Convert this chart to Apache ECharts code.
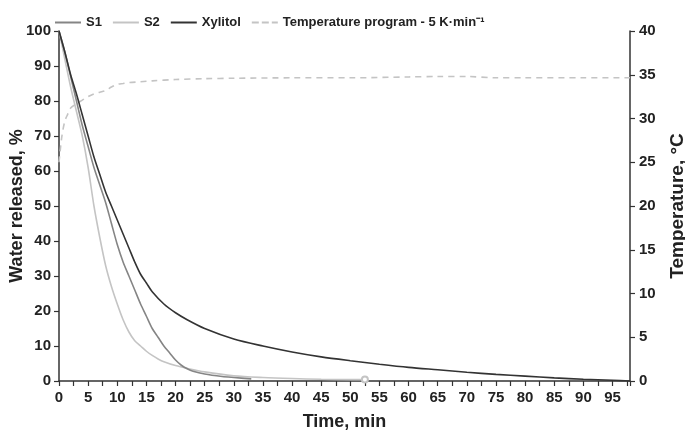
<!DOCTYPE html>
<html>
<head>
<meta charset="utf-8">
<script src="https://cdn.jsdelivr.net/npm/echarts@6/dist/echarts.min.js"></script>
<style>
  html, body { margin: 0; padding: 0; background: #fff; }
  #chart { width: 685px; height: 431px; }
</style>
</head>
<body>
<div id="chart"></div>
<script>
// 读图估计的数据 (time in min)
const s1Time = [0, 1, 2, 3, 4, 5, 6, 7, 8, 9, 10, 11, 12, 13, 14, 15, 16, 17, 18, 19, 20, 21, 22, 23, 25, 28, 30, 33]
const s1Water = [100, 94, 87, 80, 73, 67, 61, 56, 51, 45, 39, 34, 30, 26, 22, 18.5, 15, 12.5, 10, 8, 6, 4.5, 3.5, 2.8, 2, 1.3, 1, 0.6]

const s2Time = [0, 1, 2, 3, 4, 5, 6, 7, 8, 9, 10, 11, 12, 13, 14, 15, 16, 17, 18, 20, 22, 25, 30, 35, 40, 45, 50, 52.5]
const s2Water = [100, 92, 84, 77, 70, 61, 50, 41, 33, 27, 22, 17.5, 14, 11.5, 10, 8.5, 7.3, 6.3, 5.5, 4.4, 3.6, 2.6, 1.5, 1, 0.7, 0.5, 0.4, 0.4]

const xyTime = [0, 1, 2, 3, 4, 5, 6, 7, 8, 9, 10, 11, 12, 13, 14, 15, 16, 18, 20, 22, 25, 30, 35, 40, 45, 50, 55, 60, 65, 70, 75, 80, 85, 90, 95, 98]
const xyWater = [100, 94, 87.5, 82, 76, 70, 64, 59, 54, 50, 46, 42, 38, 34, 30.5, 28, 25.5, 22, 19.5, 17.5, 15, 12, 10, 8.3, 6.9, 5.8, 4.8, 3.9, 3.2, 2.5, 1.9, 1.4, 0.9, 0.5, 0.2, 0]

const tempTime = [0, 0.5, 1, 1.5, 2, 3, 4, 5, 6, 7, 8, 9, 10, 11, 12, 14, 16, 20, 25, 30, 40, 50, 60, 65, 70, 75, 80, 90, 98]
const tempValue = [25, 28, 29.7, 30.5, 31.2, 31.7, 32.1, 32.5, 32.8, 33, 33.2, 33.6, 33.9, 34, 34.1, 34.2, 34.3, 34.45, 34.55, 34.6, 34.65, 34.65, 34.75, 34.8, 34.8, 34.65, 34.65, 34.65, 34.65]

const pairs = (xs, ys) => xs.map((x, i) => [x, ys[i]])

const axisColor = '#333'
const labelFont = {
  fontFamily: 'Liberation Sans',
  fontWeight: 'bold',
  fontSize: 15,
  color: '#222'
}
// 图例线条图标
const solidIcon = 'path://M0,0H26V2H0Z'
const dashIcon = 'path://M0,0H7V2H0Z M10,0H17V2H10Z M20,0H26V2H20Z'

const chart = echarts.init(document.getElementById('chart'))
const option = {
  animation: false,
  backgroundColor: '#fff',
  legend: {
    top: 11,
    left: 50,
    itemWidth: 26,
    itemHeight: 2,
    itemGap: 11,
    textStyle: Object.assign({}, labelFont, {fontSize: 13}),
    data: [
      {name: 'S1', icon: solidIcon},
      {name: 'S2', icon: solidIcon},
      {name: 'Xylitol', icon: solidIcon},
      {name: 'Temperature program - 5 K·min⁻¹', icon: dashIcon}
    ]
  },
  grid: {
    left: 59,
    right: 55,
    top: 31,
    bottom: 50,
    containLabel: false,
    outerBoundsMode: 'none'
  },
  xAxis: {
    type: 'value',
    min: 0,
    max: 98,
    interval: 5,
    name: 'Time, min',
    nameLocation: 'middle',
    nameGap: 32,
    nameMoveOverlap: false,
    nameTextStyle: Object.assign({}, labelFont, {fontSize: 18}),
    axisLine: {lineStyle: {color: axisColor, width: 1.5}},
    axisTick: {inside: false, length: 5, lineStyle: {color: axisColor, width: 1.2}},
    minorTick: {show: true, splitNumber: 2, length: 5, lineStyle: {color: axisColor, width: 1.2}},
    axisLabel: Object.assign({}, labelFont, {
      margin: 9,
      formatter: v => (v % 5 === 0 && v <= 95 ? String(v) : '')
    }),
    splitLine: {show: false}
  },
  yAxis: [
    {
      type: 'value',
      min: 0,
      max: 100,
      interval: 10,
      name: 'Water released, %',
      nameLocation: 'middle',
      nameGap: 33,
      nameMoveOverlap: false,
      nameTextStyle: Object.assign({}, labelFont, {fontSize: 18}),
      axisLine: {show: true, lineStyle: {color: axisColor, width: 1.5}},
      axisTick: {show: true, length: 5, lineStyle: {color: axisColor, width: 1.2}},
      axisLabel: Object.assign({}, labelFont, {margin: 8}),
      splitLine: {show: false}
    },
    {
      type: 'value',
      min: 0,
      max: 40,
      interval: 5,
      position: 'right',
      name: 'Temperature, °C',
      nameLocation: 'middle',
      nameGap: 38,
      nameRotate: 90,
      nameMoveOverlap: false,
      nameTextStyle: Object.assign({}, labelFont, {fontSize: 19}),
      axisLine: {show: true, lineStyle: {color: axisColor, width: 1.5}},
      axisTick: {show: true, length: 5, lineStyle: {color: axisColor, width: 1.2}},
      axisLabel: Object.assign({}, labelFont, {margin: 9}),
      splitLine: {show: false}
    }
  ],
  series: [
    {
      name: 'S1',
      type: 'line',
      smooth: 0.3,
      symbol: 'none',
      data: pairs(s1Time, s1Water),
      lineStyle: {color: '#858585', width: 1.6},
      itemStyle: {color: '#858585'},
      z: 3
    },
    {
      name: 'S2',
      type: 'line',
      smooth: 0.3,
      symbol: 'none',
      data: pairs(s2Time, s2Water).map((p, i, arr) => (i === arr.length - 1
        ? {value: p, symbol: 'emptyCircle', symbolSize: 6}
        : {value: p})),
      lineStyle: {color: '#c4c4c4', width: 1.6},
      itemStyle: {color: '#c4c4c4', borderWidth: 1},
      z: 2
    },
    {
      name: 'Xylitol',
      type: 'line',
      smooth: 0.3,
      symbol: 'none',
      data: pairs(xyTime, xyWater),
      lineStyle: {color: '#333', width: 1.6},
      itemStyle: {color: '#333'},
      z: 4
    },
    {
      name: 'Temperature program - 5 K·min⁻¹',
      type: 'line',
      yAxisIndex: 1,
      smooth: 0.3,
      symbol: 'none',
      data: pairs(tempTime, tempValue),
      lineStyle: {color: '#c4c4c4', width: 1.6, type: [6, 5]},
      itemStyle: {color: '#c4c4c4'},
      z: 1
    }
  ]
}
chart.setOption(option)
</script>
</body>
</html>
